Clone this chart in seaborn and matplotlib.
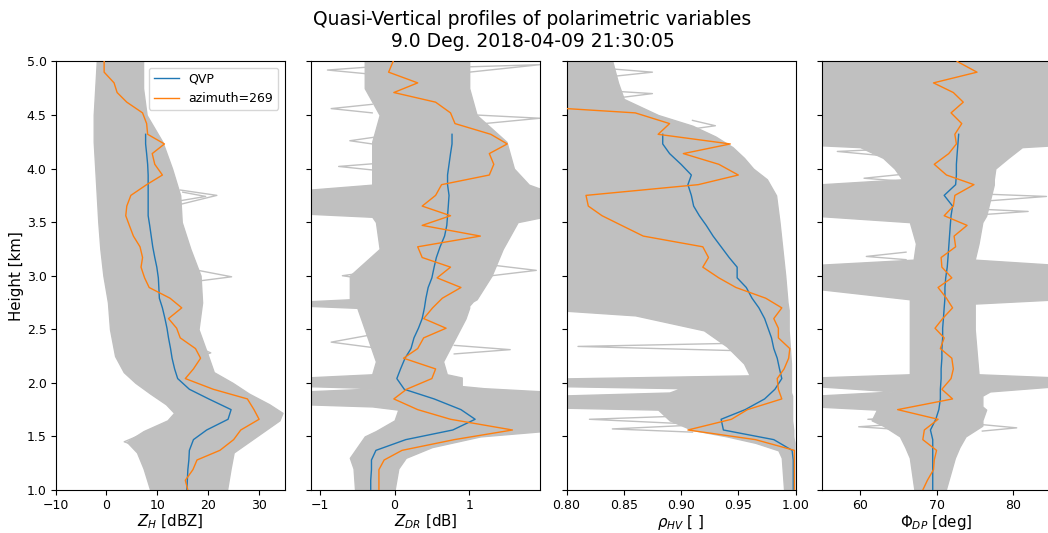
import numpy as np
import seaborn as sns
import matplotlib
matplotlib.use("Agg")
import matplotlib.pyplot as plt

# range-gate heights of the 9 deg sweep [km]
heights = [1.00, 1.09, 1.19, 1.28, 1.37, 1.47, 1.56, 1.66, 1.75, 1.85, 1.94,
           2.04, 2.13, 2.23, 2.32, 2.42, 2.51, 2.60, 2.70, 2.79, 2.89, 2.98,
           3.08, 3.17, 3.27, 3.37, 3.47, 3.56, 3.65, 3.75, 3.85, 3.94, 4.04,
           4.14, 4.23, 4.32, 4.42, 4.52, 4.62, 4.71, 4.80, 4.90, 5.00]

# QVP (azimuthal mean), defined up to 4.32 km
qvp_zh = [15.8, 15.9, 16.0, 16.2, 16.3, 17.1, 19.7, 23.9, 24.5, 20.1, 16.3,
          14.0, 13.4, 12.9, 12.6, 12.2, 11.9, 11.5, 11.0, 10.4, 10.3, 10.2,
          9.9, 9.5, 9.1, 8.8, 8.5, 8.2, 8.2, 8.2, 8.2, 8.2, 8.1, 7.9, 7.7, 7.7]
qvp_zdr = [-0.32, -0.32, -0.31, -0.31, -0.25, 0.15, 0.78, 1.08, 0.89, 0.53, 0.13,
           0.03, 0.08, 0.14, 0.22, 0.26, 0.32, 0.37, 0.40, 0.42, 0.45, 0.50,
           0.53, 0.56, 0.61, 0.67, 0.70, 0.71, 0.72, 0.73, 0.71, 0.71, 0.73,
           0.75, 0.77, 0.77]
qvp_rho = [0.998, 0.998, 0.998, 0.998, 0.997, 0.981, 0.937, 0.935, 0.956, 0.973, 0.982,
           0.988, 0.986, 0.984, 0.981, 0.979, 0.976, 0.973, 0.968, 0.962, 0.957, 0.949,
           0.949, 0.942, 0.935, 0.928, 0.922, 0.916, 0.911, 0.909, 0.906, 0.909, 0.900,
           0.890, 0.884, 0.884]
qvp_phi = [69.5, 69.5, 69.5, 69.5, 69.5, 69.5, 69.2, 69.9, 70.3, 70.5, 70.5,
           70.6, 70.6, 70.7, 70.7, 70.8, 70.8, 70.9, 71.0, 71.1, 71.1, 71.2,
           71.4, 71.5, 71.6, 71.7, 71.8, 71.9, 72.1, 71.0, 72.5, 72.6, 72.6,
           72.7, 72.8, 72.9]

# single ray, azimuth 269
az_zh = [16.0, 15.5, 17.0, 17.8, 22.3, 25.0, 26.4, 30.0, 29.0, 27.7, 21.0,
         15.5, 17.1, 18.5, 17.5, 14.5, 13.8, 12.2, 14.8, 12.5, 8.4, 7.5,
         6.8, 7.1, 6.6, 5.3, 4.5, 3.8, 4.0, 4.8, 7.9, 11.0, 9.5, 9.0, 11.4,
         8.1, 7.9, 7.1, 4.0, 2.1, 1.5, -0.45, -0.45]
az_zdr = [-0.21, -0.21, -0.21, -0.14, 0.10, 0.80, 1.58, 0.75, 0.31, -0.01, 0.16,
          0.50, 0.55, 0.12, 0.31, 0.39, 0.69, 0.39, 0.51, 0.64, 0.89, 0.57,
          0.75, 0.37, 0.31, 1.15, 0.37, 0.75, 0.37, 0.55, 0.63, 1.27, 1.33,
          1.27, 1.51, 1.29, 0.81, 0.75, 0.55, -0.01, 0.31, -0.08, -0.02]
az_rho = [0.999, 0.999, 0.999, 0.999, 0.999, 0.965, 0.906, 0.944, 0.958, 0.988, 0.985,
          0.984, 0.990, 0.994, 0.995, 0.985, 0.985, 0.981, 0.988, 0.974, 0.948, 0.933,
          0.919, 0.924, 0.919, 0.867, 0.848, 0.831, 0.819, 0.817, 0.915, 0.950, 0.933,
          0.902, 0.943, 0.880, 0.890, 0.860, 0.710]
az_phi = [68.2, 68.8, 69.6, 69.7, 70.0, 68.2, 68.4, 70.2, 64.9, 72.1, 70.7,
          71.9, 72.2, 72.0, 70.5, 71.0, 69.8, 70.8, 72.1, 71.3, 70.2, 72.0,
          70.7, 70.6, 72.5, 72.3, 74.0, 71.0, 72.2, 72.4, 74.9, 71.3, 69.7,
          71.6, 72.6, 72.4, 73.3, 71.9, 73.5, 72.2, 69.6, 75.3, 72.7]

# envelope of all other azimuths (grey spaghetti), lower / upper edge
zh_env_h = [1.00, 1.20, 1.35, 1.45, 1.55, 1.65, 1.72, 1.80, 1.90, 2.00, 2.10, 2.25,
            2.50, 2.75, 3.00, 3.25, 3.50, 3.75, 4.00, 4.25, 4.50, 4.75, 5.00]
zh_env_lo = [8.6, 7.3, 6.0, 4.0, 7.3, 12.0, 13.3, 11.7, 8.6, 5.7, 3.4, 1.7,
             0.7, 0.3, -0.6, -1.2, -1.6, -1.9, -2.2, -2.5, -2.5, -2.2, -1.9]
zh_env_hi = [23.7, 24.4, 25.0, 28.0, 31.0, 34.0, 34.6, 32.0, 28.0, 24.8, 21.1, 20.0,
             18.1, 18.8, 18.5, 16.5, 14.8, 14.5, 12.9, 11.0, 7.9, 7.2, 7.2]

zdr_env_h = [1.00, 1.20, 1.30, 1.40, 1.50, 1.55, 1.65, 1.75, 1.78, 1.80, 1.92, 1.95,
             1.97, 2.05, 2.08, 2.20, 2.40, 2.60, 2.70, 2.72, 2.76, 2.78, 3.00, 3.25,
             3.50, 3.55, 3.58, 3.80, 3.85, 4.00, 4.25, 4.50, 4.75, 5.00]
zdr_env_lo = [-0.53, -0.55, -0.60, -0.50, -0.40, -0.25, 0.00, 0.05, -0.30, -1.2, -1.2, -0.20,
              -1.2, -1.2, -0.30, -0.25, -0.35, -0.45, -0.50, -1.2, -1.2, -0.60, -0.60, -0.20,
              -0.25, -0.30, -1.2, -1.2, -0.30, -0.30, -0.30, -0.20, -0.40, -0.40]
zdr_env_hi = [0.00, 0.05, 0.15, 0.50, 1.15, 2.0, 2.0, 2.0, 2.0, 2.0, 2.0, 1.20,
              0.90, 0.90, 0.70, 0.65, 0.80, 0.95, 1.00, 1.00, 1.05, 1.10, 1.30, 1.45,
              1.65, 2.0, 2.0, 2.0, 1.80, 1.60, 1.50, 1.10, 1.00, 1.00]

rho_env_h = [1.00, 1.30, 1.37, 1.44, 1.50, 1.56, 1.65, 1.75, 1.77, 1.88, 1.91, 1.95,
             1.97, 2.04, 2.07, 2.18, 2.34, 2.49, 2.63, 2.68, 2.75, 3.00, 3.50, 3.75,
             3.90, 4.00, 4.10, 4.20, 4.30, 4.40, 4.50, 4.55, 4.65, 4.80, 5.00]
rho_env_lo = [0.990, 0.988, 0.985, 0.965, 0.940, 0.910, 0.890, 0.880, 0.79, 0.79, 0.890, 0.900,
              0.79, 0.79, 0.960, 0.955, 0.940, 0.920, 0.860, 0.79, 0.79, 0.79, 0.79, 0.79,
              0.79, 0.79, 0.79, 0.79, 0.79, 0.79, 0.79, 0.79, 0.79, 0.79, 0.79]
rho_env_hi = [0.999, 0.999, 0.999, 0.999, 0.998, 0.998, 0.997, 0.997, 0.997, 0.997, 0.996, 0.996,
              0.996, 0.996, 0.996, 0.996, 0.995, 0.994, 0.994, 0.994, 0.993, 0.991, 0.986, 0.983,
              0.975, 0.963, 0.955, 0.945, 0.930, 0.910, 0.880, 0.870, 0.850, 0.845, 0.840]

phi_env_h = [1.00, 1.30, 1.40, 1.50, 1.60, 1.65, 1.75, 1.78, 1.88, 1.92, 1.97, 2.05,
             2.08, 2.50, 2.74, 2.78, 2.88, 2.96, 3.10, 3.15, 3.30, 3.50, 3.56, 3.85,
             3.90, 4.00, 4.10, 4.20, 4.22, 4.40, 5.00]
phi_env_lo = [67.1, 66.5, 65.9, 65.2, 63.0, 61.5, 62.2, 54.0, 54.0, 64.5, 54.0, 54.0,
              66.5, 66.5, 66.5, 66.5, 54.0, 54.0, 54.0, 67.0, 67.3, 66.5, 54.0, 54.0,
              65.5, 64.5, 63.0, 60.0, 54.0, 54.0, 54.0]
phi_env_hi = [71.2, 72.4, 73.0, 73.8, 76.0, 76.0, 76.5, 76.0, 76.0, 77.0, 86.0, 86.0,
              75.5, 75.0, 75.0, 86.0, 86.0, 86.0, 86.0, 75.0, 75.5, 76.0, 76.5, 77.5,
              77.5, 77.7, 79.4, 81.2, 86.0, 86.0, 86.0]

# isolated outlier rays sticking out of the envelope: (values, heights)
zh_spikes = [([14.5, 21.7, 14.0], [3.80, 3.75, 3.66]),
             ([15.0, 19.5, 14.5], [3.78, 3.74, 3.70]),
             ([18.0, 24.6, 18.0], [3.05, 2.99, 2.95]),
             ([6.0, 3.5, 6.5], [1.50, 1.45, 1.40]),
             ([18.5, 20.5, 18.0], [2.32, 2.28, 2.24])]
zdr_spikes = [([-0.3, -0.9, -0.3], [4.95, 4.92, 4.88]),
              ([-0.3, -0.85, -0.3], [4.60, 4.56, 4.52]),
              ([-0.2, -0.6, -0.2], [4.30, 4.26, 4.22]),
              ([-0.2, -0.75, -0.2], [4.05, 4.02, 3.98]),
              ([-0.3, -0.85, -0.3], [2.45, 2.38, 2.33]),
              ([-0.2, -0.7, -0.2], [3.05, 3.00, 2.95]),
              ([1.0, 1.95, 1.0], [4.95, 4.97, 4.90]),
              ([1.1, 1.95, 1.2], [4.50, 4.47, 4.42]),
              ([0.8, 1.55, 0.8], [2.35, 2.31, 2.27]),
              ([1.3, 1.9, 1.3], [3.10, 3.05, 3.00])]
rho_spikes = [([0.95, 0.81, 0.95], [2.37, 2.34, 2.30]),
              ([0.90, 0.82, 0.90], [1.69, 1.66, 1.62]),
              ([0.90, 0.84, 0.91], [1.60, 1.57, 1.54]),
              ([0.84, 0.875, 0.84], [4.93, 4.90, 4.86]),
              ([0.845, 0.875, 0.845], [4.72, 4.70, 4.66]),
              ([0.91, 0.93, 0.91], [4.45, 4.40, 4.37])]
phi_spikes = [([66.0, 59.8, 66.0], [1.62, 1.59, 1.56]),
              ([66.0, 61.0, 66.0], [1.68, 1.66, 1.64]),
              ([66.0, 60.8, 66.0], [3.22, 3.18, 3.15]),
              ([66.0, 60.5, 66.0], [3.95, 3.91, 3.88]),
              ([63.0, 57.0, 63.0], [4.18, 4.16, 4.12]),
              ([76.0, 80.5, 76.0], [1.61, 1.58, 1.55]),
              ([77.0, 84.4, 77.0], [3.76, 3.74, 3.70]),
              ([76.0, 82.0, 76.0], [3.62, 3.60, 3.57])]

xlabels = [r"$Z_{H}$ [dBZ]", r"$Z_{DR}$ [dB]", r"$\rho_{HV}$ [ ]", r"$\Phi_{DP}$ [deg]"]
xlims = [(-10, 35), (-1.12, 1.95), (0.8, 1.0), (55, 85)]
xticks = [[-10, 0, 10, 20, 30], [-1, 0, 1], [0.80, 0.85, 0.90, 0.95, 1.00], [60, 70, 80]]

panels = [
    (qvp_zh, az_zh, zh_env_h, zh_env_lo, zh_env_hi, zh_spikes),
    (qvp_zdr, az_zdr, zdr_env_h, zdr_env_lo, zdr_env_hi, zdr_spikes),
    (qvp_rho, az_rho, rho_env_h, rho_env_lo, rho_env_hi, rho_spikes),
    (qvp_phi, az_phi, phi_env_h, phi_env_lo, phi_env_hi, phi_spikes),
]

fig = plt.figure(figsize=(10.48, 5.33), dpi=100)
lefts = [0.053, 0.2968, 0.5406, 0.7844]
grey = "#c0c0c0"
blue = "#1f77b4"
orange = "#ff7f0e"

axes = []
for i, (qvp, az, env_h, env_lo, env_hi, spikes) in enumerate(panels):
    ax = fig.add_axes([lefts[i], 0.0807, 0.2185, 0.804])
    axes.append(ax)
    ax.fill_betweenx(env_h, env_lo, env_hi, color=grey, lw=1, zorder=1)
    for sx, sy in spikes:
        ax.plot(sx, sy, color=grey, lw=1, zorder=1)
    sns.lineplot(x=qvp, y=heights[:len(qvp)], orient="y", sort=False, estimator=None,
                 ax=ax, color=blue, lw=1, label="QVP", legend=False, zorder=3)
    sns.lineplot(x=az, y=heights[:len(az)], orient="y", sort=False, estimator=None,
                 ax=ax, color=orange, lw=1, label="azimuth=269", legend=False, zorder=4)
    ax.set_xlim(*xlims[i])
    ax.set_xticks(xticks[i])
    ax.set_ylim(1.0, 5.0)
    ax.set_yticks(np.arange(1.0, 5.01, 0.5))
    ax.set_xlabel(xlabels[i], fontsize=10.8, labelpad=0.5)
    ax.tick_params(labelsize=9, pad=3)
    if i == 0:
        ax.set_ylabel("Height [km]", fontsize=10.8, labelpad=2)
        ax.yaxis.set_major_formatter(matplotlib.ticker.FormatStrFormatter("%.1f"))
    else:
        ax.set_ylabel("")
        ax.set_yticklabels([])

axes[2].xaxis.set_major_formatter(matplotlib.ticker.FormatStrFormatter("%.2f"))
axes[0].legend(loc="upper right", fontsize=9)

fig.suptitle("Quasi-Vertical profiles of polarimetric variables\n9.0 Deg. 2018-04-09 21:30:05",
             x=0.508, y=0.982, fontsize=13.5, va="top")

fig.savefig("out.png", dpi=100)
